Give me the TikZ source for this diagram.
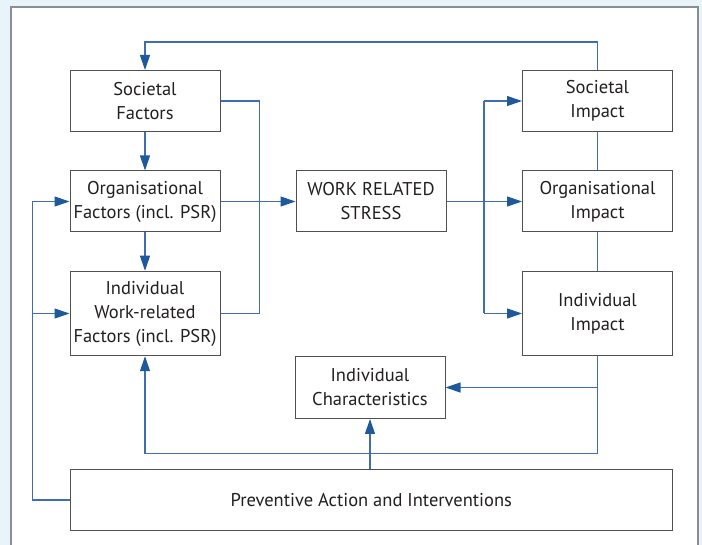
\documentclass[tikz,border=0pt]{standalone}
\usepackage{fontspec}
\setmainfont{PT Sans}
\usetikzlibrary{arrows.meta,calc}
\definecolor{bgblue}{RGB}{232,244,250}
\definecolor{panelc}{RGB}{138,143,148}
\definecolor{boxc}{RGB}{80,80,80}
\definecolor{txtc}{RGB}{35,31,32}
\definecolor{linec}{RGB}{62,110,176}
\definecolor{arrowc}{RGB}{30,90,155}
\begin{document}
\begin{tikzpicture}[x=1pt,y=-1pt,
  box/.style={draw=boxc, line width=1pt, fill=white, inner sep=0pt,
    align=center, text=txtc, minimum width=150pt, minimum height=61pt,
    font=\fontsize{18.5}{24}\selectfont},
  conn/.style={draw=linec, line width=1.1pt},
  arr/.style={conn, -{Triangle[length=15pt,width=10pt,color=arrowc]}}]
\useasboundingbox (0,0) rectangle (702,545);
\fill[bgblue] (0,0) rectangle (702,545);
\fill[white] (11,7) rectangle (698,548);
\draw[panelc, line width=2pt] (11,548) -- (11,7) -- (698,7) -- (698,548);

\node[box] (sf) at (145,101) {Societal\\Factors};
\node[box] (of) at (145,201.5) {Organisational\\Factors (incl. PSR)};
\node[box, minimum height=84.5pt] (iwf) at (145,313.5) {Individual\\Work-related\\Factors (incl. PSR)};
\node[box] (wrs) at (371,201.5) {WORK RELATED\\STRESS};
\node[box] (si) at (597.5,101) {Societal\\Impact};
\node[box] (oi) at (597.5,201.5) {Organisational\\Impact};
\node[box, minimum height=84.5pt] (ii) at (597.5,313.5) {Individual\\Impact};
\node[box, minimum height=62pt] (ic) at (370,387.5) {Individual\\Characteristics};
\node[box, minimum width=602pt, minimum height=61.5pt] (pa) at (371.3,500) {Preventive Action and Interventions};

\coordinate (vx) at (484,0);
\coordinate (lx) at (32.5,0);

\draw[arr] (si.north) -- ++(0,-28) -| (sf.north);
\draw[arr] (sf) -- (of);
\draw[arr] (of) -- (iwf);
\draw[conn] (sf.east) -- ++(39,0) |- (iwf.east);
\draw[arr] (of) -- (wrs);
\draw[arr] (wrs) -- (oi);
\draw[conn] (vx |- si.west) -- (vx |- ii.west);
\draw[arr] (vx |- si.west) -- (si.west);
\draw[arr] (vx |- ii.west) -- (ii.west);
\draw[conn] (si) -- (oi);
\draw[conn] (oi) -- (ii);
\draw[arr] (ii.south) -- ++(0,97) -| (iwf.south);
\draw[arr] (ii.south |- ic.east) -- (ic.east);
\draw[arr] (ic.south |- pa.north) -- (ic.south);
\draw[arr] (pa.west) -- (lx |- pa.west) |- (of.west);
\draw[arr] (lx |- iwf.west) -- (iwf.west);
\end{tikzpicture}
\end{document}
